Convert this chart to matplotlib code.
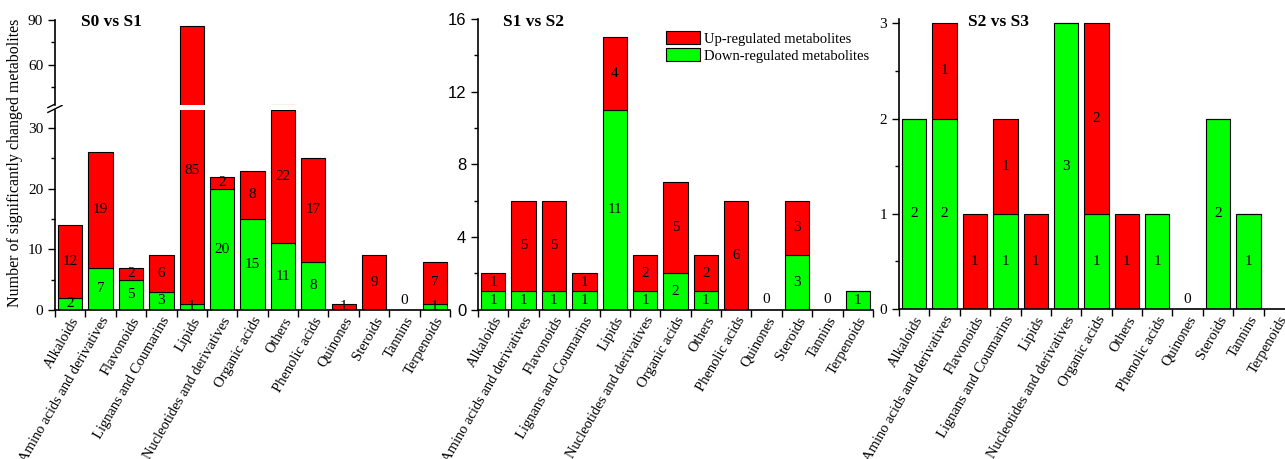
import numpy as np
import matplotlib
matplotlib.use('Agg')
import matplotlib.pyplot as plt
from matplotlib import rcParams
import matplotlib.ticker as mticker

rcParams.update({'font.size': 10})
rcParams['font.family'] = 'serif'
rcParams.update({'font.serif': ['Liberation Serif', 'DejaVu Serif']})

categories = ['Alkaloids', 'Amino acids and derivatives', 'Flavonoids',
              'Lignans and Coumarins', 'Lipids', 'Nucleotides and derivatives',
              'Organic acids', 'Others', 'Phenolic acids', 'Quinones',
              'Steroids', 'Tannins', 'Terpenoids']

s0s1_down = [2, 7, 5, 3, 1, 20, 15, 11, 8, 0, 0, 0, 1]
s0s1_up = [12, 19, 2, 6, 85, 2, 8, 22, 17, 1, 9, 0, 7]

s1s2_down = [1, 1, 1, 1, 11, 1, 2, 1, 0, 0, 3, 0, 1]
s1s2_up = [1, 5, 5, 1, 4, 2, 5, 2, 6, 0, 3, 0, 0]

# Terpenoids have no entry in the last comparison
s2s3_down = [2, 2, 0, 1, 0, 3, 1, 0, 1, 0, 2, 1, np.nan]
s2s3_up = [0, 1, 1, 1, 1, 0, 2, 1, 0, 0, 0, 0, np.nan]

c_up = '#ff0000'
c_down = '#00ff00'
bar_w = 0.8

plt.close('all')
fig = plt.figure(figsize=(12.85, 4.59), dpi=100)

W = 395/1285
ax1_lo = fig.add_axes([55/1285, 1-310/459, W, 200/459])
ax1_hi = fig.add_axes([55/1285, 1-105/459, W, 85/459])
ax2 = fig.add_axes([478/1285, 1-309.5/459, W, 290.5/459])
ax3 = fig.add_axes([899/1285, 1-309/459, W, 290/459])

x = np.arange(len(categories))


def draw_bars(ax, down, up):
    down = np.array(down, dtype=float)
    up = np.array(up, dtype=float)
    ax.bar(x, down, width=bar_w, color=c_down, edgecolor='black', linewidth=0.8,
           label='Down-regulated metabolites')
    ax.bar(x, up, bottom=down, width=bar_w, color=c_up, edgecolor='black',
           linewidth=0.8, label='Up-regulated metabolites')


def label_bars(ax, down, up, ytop):
    down = np.array(down, dtype=float)
    up = np.array(up, dtype=float)
    for i in range(len(categories)):
        d, u = down[i], up[i]
        if np.isnan(d):
            continue
        if d + u == 0:
            ax.annotate('0', (x[i], 0), xytext=(0, 7), textcoords='offset points',
                        ha='center', va='center', fontsize=11)
            continue
        if d > 0:
            ax.text(x[i], d/2, str(int(d)), ha='center', va='center', fontsize=11)
        if u > 0:
            yc = d + u/2
            if yc > ytop:
                yc = 0.7*ytop
            ax.text(x[i], yc, str(int(u)), ha='center', va='center', fontsize=11)


def style_x(ax):
    ax.set_xlim(-0.5, len(categories)-0.5)
    ax.set_xticks(x)
    ax.xaxis.set_minor_locator(mticker.FixedLocator(np.arange(-0.5, len(categories), 1)))
    ax.tick_params(axis='x', which='major', length=0)
    ax.tick_params(axis='x', which='minor', length=5, width=1, direction='out')
    ax.set_xticklabels(categories, rotation=60, ha='right',
                       rotation_mode='anchor', fontsize=10.5)
    ax.spines['top'].set_visible(False)
    ax.spines['right'].set_visible(False)
    for s in ['left', 'bottom']:
        ax.spines[s].set_linewidth(1.2)
    ax.tick_params(axis='y', which='major', length=5, width=1, direction='out',
                   labelsize=11)
    ax.tick_params(axis='y', which='minor', length=3, width=1, direction='out')


# S0 vs S1 with a broken axis
lo_top = 33
for ax in (ax1_lo, ax1_hi):
    draw_bars(ax, s0s1_down, s0s1_up)
    style_x(ax)
ax1_lo.set_ylim(0, lo_top)
ax1_hi.set_ylim(lo_top, 90)
ax1_lo.set_yticks([0, 10, 20, 30])
ax1_lo.yaxis.set_minor_locator(mticker.FixedLocator([5, 15, 25]))
ax1_hi.set_yticks([60, 90])
ax1_hi.yaxis.set_minor_locator(mticker.FixedLocator([45, 75]))
ax1_hi.spines['bottom'].set_visible(False)
ax1_hi.tick_params(axis='x', which='both', length=0, labelbottom=False)
label_bars(ax1_lo, s0s1_down, s0s1_up, lo_top)

# break marks on the left spine
for yy in (-0.012, 0.012):
    ax1_lo.plot([-0.018, 0.018], [1.0+yy, 1.035+yy], transform=ax1_lo.transAxes,
                color='black', lw=1, clip_on=False)

ax1_hi.text(0.065, 0.975, 'S0 vs S1', transform=ax1_hi.transAxes,
            fontsize=12.5, fontweight='bold', va='center')

fig.text(15/1285, 1-163/459, 'Number of significantly changed metabolites',
         rotation=90, ha='center', va='center', fontsize=11.5)

# S1 vs S2
draw_bars(ax2, s1s2_down, s1s2_up)
style_x(ax2)
ax2.set_ylim(0, 16)
ax2.set_yticks([0, 4, 8, 12, 16])
ax2.yaxis.set_minor_locator(mticker.FixedLocator([2, 6, 10, 14]))
for t in ax2.get_yticklabels():
    t.set_family('Liberation Sans')
    t.set_fontsize(12)
label_bars(ax2, s1s2_down, s1s2_up, 16)
ax2.text(0.063, 0.988, 'S1 vs S2', transform=ax2.transAxes,
         fontsize=12.5, fontweight='bold', va='center')
handles, labels = ax2.get_legend_handles_labels()
ax2.legend(handles[::-1], labels[::-1], loc='upper left', bbox_to_anchor=(0.462, 0.978),
           frameon=False, fontsize=10.5, handlelength=2.3, handleheight=0.95,
           handletextpad=0.3, labelspacing=0.2, borderaxespad=0)

# S2 vs S3
draw_bars(ax3, s2s3_down, s2s3_up)
style_x(ax3)
ax3.set_ylim(0, 3.045)
ax3.set_yticks([0, 1, 2, 3])
ax3.yaxis.set_minor_locator(mticker.FixedLocator([0.5, 1.5, 2.5]))
label_bars(ax3, s2s3_down, s2s3_up, 3.045)
ax3.text(0.175, 0.988, 'S2 vs S3', transform=ax3.transAxes,
         fontsize=12.5, fontweight='bold', va='center')

plt.savefig('out.png', format='png', dpi=100)
